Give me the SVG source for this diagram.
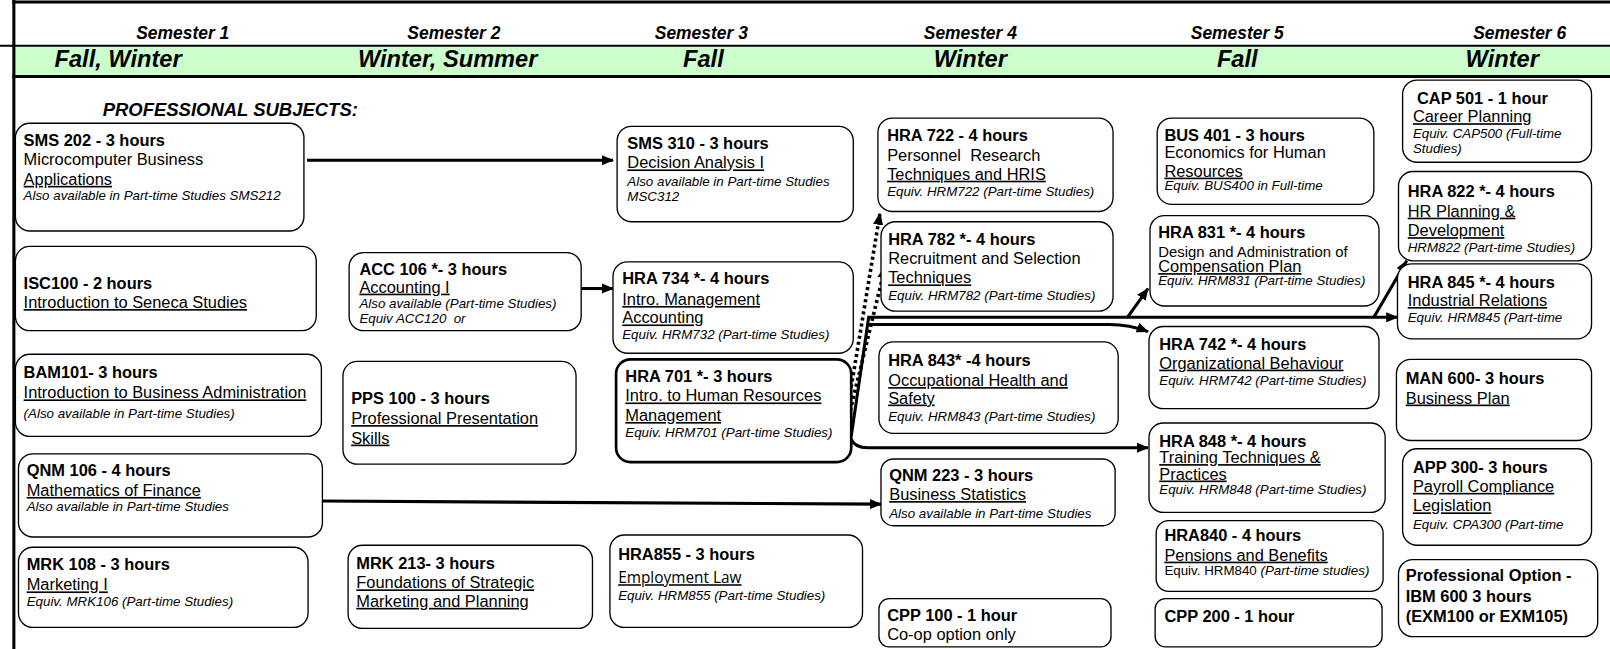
<svg xmlns="http://www.w3.org/2000/svg" width="1610" height="649" viewBox="0 0 1610 649">
<style>
.box{fill:#fff;stroke:#000;stroke-width:1.3}
.thick{stroke-width:2.6}
text{font-family:"Liberation Sans",Arial,sans-serif;fill:#000}
.b{font-size:16px;font-weight:bold}
.r{font-size:16px}
.s{font-size:14.5px}
.u{text-decoration:underline}
.i{font-size:13px;font-style:italic}
.sem{font-size:17px;font-weight:bold;font-style:italic}
.season{font-size:23px;font-weight:bold;font-style:italic}
.conn{stroke:#000;stroke-width:3;fill:none}
.dot{stroke-dasharray:3 3;stroke-width:3.5}
</style>
<defs>
<marker id="ah" markerUnits="userSpaceOnUse" markerWidth="12" markerHeight="10" refX="11" refY="5" orient="auto">
<path d="M0,0 L12,5 L0,10 z" fill="#000"/>
</marker>
</defs>
<rect x="0" y="0" width="1610" height="649" fill="#fff"/>
<g transform="scale(1.0268)">
<g id="header">
<rect x="14" y="45" width="1596" height="29" fill="#ccffcc"/>
<line x1="12" y1="2" x2="1610" y2="2" stroke="#000" stroke-width="3"/>
<line x1="0" y1="44.5" x2="1610" y2="44.5" stroke="#000" stroke-width="2"/>
<line x1="12" y1="74.5" x2="1610" y2="74.5" stroke="#000" stroke-width="3"/>
<line x1="13.5" y1="0" x2="13.5" y2="649" stroke="#000" stroke-width="3"/>
<text class="sem" x="178" y="38" text-anchor="middle">Semester 1</text>
<text class="sem" x="442" y="38" text-anchor="middle">Semester 2</text>
<text class="sem" x="683" y="38" text-anchor="middle">Semester 3</text>
<text class="sem" x="945" y="38" text-anchor="middle">Semester 4</text>
<text class="sem" x="1205" y="38" text-anchor="middle">Semester 5</text>
<text class="sem" x="1480" y="38" text-anchor="middle">Semester 6</text>
<text class="season" x="115" y="65" text-anchor="middle">Fall, Winter</text>
<text class="season" x="436" y="65" text-anchor="middle">Winter, Summer</text>
<text class="season" x="685" y="65" text-anchor="middle">Fall</text>
<text class="season" x="945" y="65" text-anchor="middle">Winter</text>
<text class="season" x="1205" y="65" text-anchor="middle">Fall</text>
<text class="season" x="1463" y="65" text-anchor="middle">Winter</text>
<text class="sem" x="100" y="113" style="font-size:18px">PROFESSIONAL SUBJECTS:</text>
</g>
<g id="connectors">
<path class="conn" d="M299,156 H597" marker-end="url(#ah)"/>
<path class="conn" d="M566,281 H597" marker-end="url(#ah)"/>
<path class="conn" d="M314,488 L858,491" marker-end="url(#ah)"/>
<path class="conn dot" d="M826,395 L857,208" marker-end="url(#ah)"/>
<path class="conn dot" d="M828,400 L862,260" marker-end="url(#ah)"/>
<path class="conn" d="M829,425 L846,309 H1361" marker-end="url(#ah)"/>
<path class="conn" d="M1338,309 L1370,254" marker-end="url(#ah)"/>
<path class="conn" d="M1098,309 L1118,281" marker-end="url(#ah)"/>
<path class="conn" d="M846,316 H1080 Q1100,316 1118,323" marker-end="url(#ah)"/>
<path class="conn" d="M829,428 Q833,437 848,436 H1118" marker-end="url(#ah)"/>
</g>
<g id="sms202"><rect class="box" x="15" y="120" width="281" height="105" rx="14"/>
<text class="b" x="23" y="142">SMS 202 - 3 hours</text>
<text class="r" x="23" y="161">Microcomputer Business</text>
<text class="r u" x="23" y="180">Applications</text>
<text class="i" x="23" y="195">Also available in Part-time Studies SMS212</text></g>
<g id="isc100"><rect class="box" x="15" y="240" width="293" height="82" rx="14"/>
<text class="b" x="23" y="281">ISC100 - 2 hours</text>
<text class="r u" x="23" y="300">Introduction to Seneca Studies</text></g>
<g id="bam101"><rect class="box" x="15" y="345" width="298" height="80" rx="14"/>
<text class="b" x="23" y="368">BAM101- 3 hours</text>
<text class="r u" x="23" y="388">Introduction to Business Administration</text>
<text class="i" x="23" y="407">(Also available in Part-time Studies)</text></g>
<g id="qnm106"><rect class="box" x="18" y="442" width="296" height="81" rx="14"/>
<text class="b" x="26" y="464">QNM 106 - 4 hours</text>
<text class="r u" x="26" y="483">Mathematics of Finance</text>
<text class="i" x="26" y="498">Also available in Part-time Studies</text></g>
<g id="mrk108"><rect class="box" x="18" y="533" width="282" height="78" rx="14"/>
<text class="b" x="26" y="555">MRK 108 - 3 hours</text>
<text class="r u" x="26" y="575">Marketing I</text>
<text class="i" x="26" y="590">Equiv. MRK106 (Part-time Studies)</text></g>
<g id="acc106"><rect class="box" x="340" y="246" width="226" height="76" rx="14"/>
<text class="b" x="350" y="268">ACC 106 *- 3 hours</text>
<text class="r u" x="350" y="285">Accounting I</text>
<text class="i" x="350" y="300">Also available (Part-time Studies)</text>
<text class="i" x="350" y="315" xml:space="preserve">Equiv ACC120  or</text></g>
<g id="pps100"><rect class="box" x="334" y="352" width="227" height="100" rx="14"/>
<text class="b" x="342" y="393">PPS 100 - 3 hours</text>
<text class="r u" x="342" y="413">Professional Presentation</text>
<text class="r u" x="342" y="432">Skills</text></g>
<g id="mrk213"><rect class="box" x="339" y="531" width="238" height="81" rx="14"/>
<text class="b" x="347" y="554">MRK 213- 3 hours</text>
<text class="r u" x="347" y="573">Foundations of Strategic</text>
<text class="r u" x="347" y="591">Marketing and Planning</text></g>
<g id="sms310"><rect class="box" x="601" y="123" width="230" height="93" rx="14"/>
<text class="b" x="611" y="145">SMS 310 - 3 hours</text>
<text class="r u" x="611" y="164">Decision Analysis I</text>
<text class="i" x="611" y="181">Also available in Part-time Studies</text>
<text class="i" x="611" y="196">MSC312</text></g>
<g id="hra734"><rect class="box" x="597" y="255" width="234" height="89" rx="14"/>
<text class="b" x="606" y="277">HRA 734 *- 4 hours</text>
<text class="r u" x="606" y="297">Intro. Management</text>
<text class="r u" x="606" y="315">Accounting</text>
<text class="i" x="606" y="330">Equiv. HRM732 (Part-time Studies)</text></g>
<g id="hra701"><rect class="box thick" x="600" y="350" width="229" height="100" rx="14"/>
<text class="b" x="609" y="372">HRA 701 *- 3 hours</text>
<text class="r u" x="609" y="391">Intro. to Human Resources</text>
<text class="r u" x="609" y="410">Management</text>
<text class="i" x="609" y="426">Equiv. HRM701 (Part-time Studies)</text></g>
<g id="hra855"><rect class="box" x="594" y="521" width="246" height="90" rx="14"/>
<text class="b" x="602" y="545">HRA855 - 3 hours</text>
<text class="r u" x="602" y="568" style="font-family:'Open Sans','Liberation Sans',sans-serif;font-size:15px">Employment Law</text>
<text class="i" x="602" y="584">Equiv. HRM855 (Part-time Studies)</text></g>
<g id="hra722"><rect class="box" x="855" y="115" width="229" height="91" rx="14"/>
<text class="b" x="864" y="137">HRA 722 - 4 hours</text>
<text class="r" x="864" y="157" xml:space="preserve">Personnel  Research</text>
<text class="r u" x="864" y="175">Techniques and HRIS</text>
<text class="i" x="864" y="191">Equiv. HRM722 (Part-time Studies)</text></g>
<g id="hra782"><rect class="box" x="858" y="216" width="226" height="87" rx="14"/>
<text class="b" x="865" y="239">HRA 782 *- 4 hours</text>
<text class="r" x="865" y="257">Recruitment and Selection</text>
<text class="r u" x="865" y="276">Techniques</text>
<text class="i" x="865" y="292">Equiv. HRM782 (Part-time Studies)</text></g>
<g id="hra843"><rect class="box" x="856" y="333" width="233" height="89" rx="14"/>
<text class="b" x="865" y="356">HRA 843* -4 hours</text>
<text class="r u" x="865" y="376">Occupational Health and</text>
<text class="r u" x="865" y="393">Safety</text>
<text class="i" x="865" y="410">Equiv. HRM843 (Part-time Studies)</text></g>
<g id="qnm223"><rect class="box" x="858" y="447" width="228" height="65" rx="12"/>
<text class="b" x="866" y="468">QNM 223 - 3 hours</text>
<text class="r u" x="866" y="487">Business Statistics</text>
<text class="i" x="866" y="504">Also available in Part-time Studies</text></g>
<g id="cpp100"><rect class="box" x="856" y="583" width="226" height="47" rx="10"/>
<text class="b" x="864" y="605">CPP 100 - 1 hour</text>
<text class="r" x="864" y="623">Co-op option only</text></g>
<g id="bus401"><rect class="box" x="1127" y="115" width="211" height="84" rx="14"/>
<text class="b" x="1134" y="137">BUS 401 - 3 hours</text>
<text class="r" x="1134" y="154">Economics for Human</text>
<text class="r u" x="1134" y="172">Resources</text>
<text class="i" x="1134" y="185">Equiv. BUS400 in Full-time</text></g>
<g id="hra831"><rect class="box" x="1120" y="210" width="223" height="88" rx="14"/>
<text class="b" x="1128" y="232">HRA 831 *- 4 hours</text>
<text class="s" x="1128" y="250">Design and Administration of</text>
<text class="r u" x="1128" y="265">Compensation Plan</text>
<text class="i" x="1128" y="278">Equiv. HRM831 (Part-time Studies)</text></g>
<g id="hra742"><rect class="box" x="1119" y="318" width="224" height="80" rx="14"/>
<text class="b" x="1129" y="341">HRA 742 *- 4 hours</text>
<text class="r u" x="1129" y="359">Organizational Behaviour</text>
<text class="i" x="1129" y="375">Equiv. HRM742 (Part-time Studies)</text></g>
<g id="hra848"><rect class="box" x="1119" y="412" width="230" height="87" rx="14"/>
<text class="b" x="1129" y="435">HRA 848 *- 4 hours</text>
<text class="r u" x="1129" y="451">Training Techniques &amp;</text>
<text class="r u" x="1129" y="467">Practices</text>
<text class="i" x="1129" y="481">Equiv. HRM848 (Part-time Studies)</text></g>
<g id="hra840"><rect class="box" x="1126" y="507" width="221" height="69" rx="12"/>
<text class="b" x="1134" y="527">HRA840 - 4 hours</text>
<text class="r u" x="1134" y="546">Pensions and Benefits</text>
<text x="1134" y="560" style="font-size:13px">Equiv. HRM840 <tspan class="i">(Part-time studies)</tspan></text></g>
<g id="cpp200"><rect class="box" x="1125" y="583" width="221" height="47" rx="10"/>
<text class="b" x="1134" y="606">CPP 200 - 1 hour</text></g>
<g id="cap501"><rect class="box" x="1366" y="78" width="184" height="80" rx="14"/>
<text class="b" x="1380" y="101">CAP 501 - 1 hour</text>
<text class="r u" x="1376" y="119">Career Planning</text>
<text class="i" x="1376" y="134">Equiv. CAP500 (Full-time</text>
<text class="i" x="1376" y="149">Studies)</text></g>
<g id="hra822"><rect class="box" x="1362" y="167" width="188" height="87" rx="14"/>
<text class="b" x="1371" y="192">HRA 822 *- 4 hours</text>
<text class="r u" x="1371" y="211">HR Planning &amp;</text>
<text class="r u" x="1371" y="230">Development</text>
<text class="i" x="1371" y="245">HRM822 (Part-time Studies)</text></g>
<g id="hra845"><rect class="box" x="1361" y="257" width="189" height="73" rx="14"/>
<text class="b" x="1371" y="280">HRA 845 *- 4 hours</text>
<text class="r u" x="1371" y="298">Industrial Relations</text>
<text class="i" x="1371" y="314">Equiv. HRM845 (Part-time</text></g>
<g id="man600"><rect class="box" x="1360" y="350" width="190" height="79" rx="14"/>
<text class="b" x="1369" y="374">MAN 600- 3 hours</text>
<text class="r u" x="1369" y="393">Business Plan</text></g>
<g id="app300"><rect class="box" x="1366" y="437" width="184" height="94" rx="14"/>
<text class="b" x="1376" y="461">APP 300- 3 hours</text>
<text class="r u" x="1376" y="479">Payroll Compliance</text>
<text class="r u" x="1376" y="498">Legislation</text>
<text class="i" x="1376" y="515">Equiv. CPA300 (Part-time</text></g>
<g id="profopt"><rect class="box" x="1362" y="545" width="194" height="75" rx="14"/>
<text class="b" x="1369" y="566">Professional Option -</text>
<text class="b" x="1369" y="586">IBM 600 3 hours</text>
<text class="b" x="1369" y="606">(EXM100 or EXM105)</text></g>
</g>
</svg>
